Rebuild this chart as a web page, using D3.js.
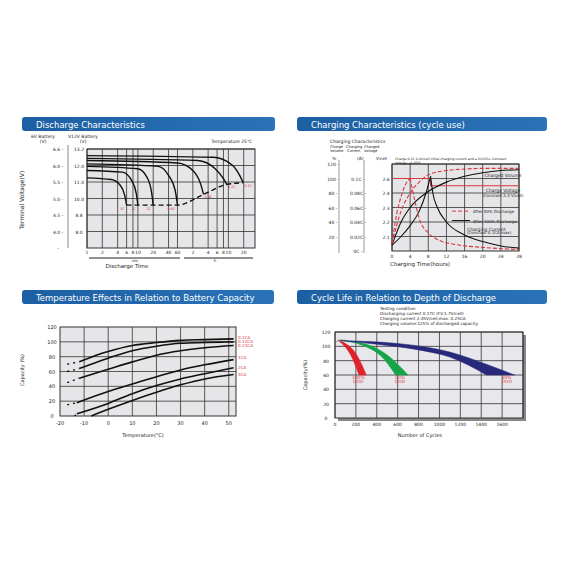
<!DOCTYPE html>
<html><head><meta charset="utf-8">
<script src="https://cdn.jsdelivr.net/npm/d3@7"></script>
<style>body{margin:0;background:#fff}text{font-family:"DejaVu Sans",sans-serif}</style>
</head><body><svg id="c" width="565" height="565"></svg>
<script>
// ---- discharge data (minutes, volts)
const dischargeLabels = ['3C', '2C', '1C', '0.6C', '0.4C', '0.2C', '0.1C'];
const dischargeCurves = [
  [[1, 11.45], [3, 11.35], [4.5, 11.0], [5.5, 10.4], [6, 9.8]],
  [[1, 11.9], [5, 11.8], [7.5, 11.3], [9.3, 10.5], [10, 9.8]],
  [[1, 12.15], [10, 12.0], [15, 11.5], [18.5, 10.6], [20, 9.8]],
  [[1, 12.3], [25, 12.15], [40, 11.6], [54, 10.7], [60, 9.8]],
  [[1, 12.5], [60, 12.35], [120, 11.9], [170, 11.1], [195, 10.45]],
  [[1, 12.63], [150, 12.5], [330, 12.0], [480, 11.4], [556, 11.05]],
  [[1, 12.8], [300, 12.7], [700, 12.25], [1000, 11.6], [1170, 11.15]]
];
const cutoffLine = [[6, 9.8], [60, 9.8], [195, 10.45], [556, 11.05], [1170, 11.15]];
const volt12Ticks = ['13.2', '12.0', '11.0', '10.0', '8.8', '8.0'];
const volt6Ticks = ['6.6', '6.0', '5.5', '5.0', '4.5', '4.0', ''];
const timeTicks = [1, 2, 4, 6, 8, 10, 20, 40, 60, 120, 240, 360, 480, 600, 1200];
const timeTickLabels = ['1', '2', '4', '6', '8', '10', '20', '40', '60', '2', '4', '6', '8', '10', '20'];

// ---- charging data (hours, % of scale)
const chargedVolume = [[0, 8], [2, 40], [4, 60], [8, 82], [12, 95], [16, 103], [20, 108], [24, 111], [28, 112]];
const chargedVolume50 = [[0, 10], [2, 55], [4, 80], [6, 95], [8, 105], [12, 111], [16, 113], [20, 114], [28, 114]];
const voltage100 = [[0, 8], [2, 20], [4, 35], [6, 55], [7.5, 80], [8.5, 103]];
const current100 = [[8.5, 103], [9, 80], [10, 60], [12, 40], [16, 22], [20, 13], [24, 7], [28, 4]];
const voltage50 = [[0, 10], [1, 50], [2, 75], [3, 92], [4, 100]];
const current50 = [[4, 100], [5, 70], [6, 45], [8, 25], [10, 16], [14, 9], [20, 5], [28, 2]];
const chargeVoltHi = [[0, 100], [8.5, 100], [8.5, 90], [28, 90]];
const pctTicks = [120, 100, 80, 60, 40, 20];
const ampTicks = ['', '0.1C', '0.08C', '0.06C', '0.04C', '0.02C', '0C'];
const vcellTicks = ['', '2.6', '2.4', '2.3', '2.2', '2.1', ''];
const hourTicks = [0, 4, 8, 12, 16, 20, 24, 28];

// ---- temperature data (degC, %)
const tempLabels = ['0.1CA', '0.12CA', '0.21CA', '1CA', '2CA', '3CA'];
const tempCurves = [
  [[-12, 73], [-5, 82], [0, 87], [10, 95], [20, 99], [30, 102], [40, 103], [52, 104]],
  [[-12, 64], [0, 78], [10, 88], [20, 94], [30, 98], [40, 99], [52, 100]],
  [[-12, 51], [0, 63], [10, 73], [20, 82], [30, 88], [40, 92], [52, 95]],
  [[-13, 18], [0, 33], [10, 43], [20, 53], [30, 62], [40, 69], [52, 76]],
  [[-13, 3], [0, 17], [10, 30], [20, 41], [30, 50], [40, 57], [52, 65]],
  [[-7, 0], [0, 9], [10, 21], [20, 32], [30, 42], [40, 50], [52, 56]]
];
const tempDashStart = [[-17, 70], [-17, 60], [-17, 45], [-17, 15], [-14, 0]];
const tempLabelY = [106, 101, 96, 79, 66, 57];

// ---- cycle life data (cycles, %)
const dodLabels = ['100%', '50%', '30%'];
const dodColors = ['#e0222a', '#16a34a', '#27297a'];
const dodUpper = [
  [[30, 108], [100, 104], [200, 90], [300, 60]],
  [[50, 108], [300, 103], [500, 88], [700, 60]],
  [[50, 108], [600, 104], [1100, 92], [1450, 75], [1720, 60]]
];
const dodLower = [
  [[30, 108], [80, 102], [150, 88], [230, 60]],
  [[50, 108], [250, 102], [450, 85], [580, 60]],
  [[50, 108], [400, 103], [800, 95], [1100, 85], [1450, 60]]
];
const cycleTicks = [0, 200, 400, 600, 800, 1000, 1200, 1400, 1600];
const capTicks = [0, 20, 40, 60, 80, 100, 120];

const svg = d3.select('#c');
const red = '#d9363e';
const grad = svg.append('defs').append('linearGradient').attr('id', 'hb');
grad.append('stop').attr('offset', '0%').attr('stop-color', '#1d5fa3');
grad.append('stop').attr('offset', '100%').attr('stop-color', '#2a73b8');

function header(x, y, w, title) {
  svg.append('rect').attr('x', x).attr('y', y).attr('width', w).attr('height', 14)
    .attr('rx', 3).attr('fill', 'url(#hb)');
  svg.append('text').attr('x', x + 14).attr('y', y + 10.5).attr('fill', '#fff')
    .attr('font-size', 8.5).text(title);
}
function txt(x, y, s, size, opts = {}) {
  const t = svg.append('text').attr('x', x).attr('y', y).attr('font-size', size)
    .attr('fill', opts.fill || '#222').attr('text-anchor', opts.anchor || 'start').text(s);
  if (opts.rotate) t.attr('transform', `rotate(-90,${x},${y})`);
  return t;
}
function grid(g, xs, ys, x, y) {
  g.selectAll(null).data(xs).join('line').attr('x1', (d) => x(d)).attr('x2', (d) => x(d))
    .attr('y1', y.range()[0]).attr('y2', y.range()[1]).attr('stroke', '#333').attr('stroke-width', 0.8);
  g.selectAll(null).data(ys).join('line').attr('y1', (d) => y(d)).attr('y2', (d) => y(d))
    .attr('x1', x.range()[0]).attr('x2', x.range()[1]).attr('stroke', '#333').attr('stroke-width', 0.8);
}

// ========== Discharge ==========
header(22, 117, 253, 'Discharge Characteristics');
{
  const x = d3.scaleLog().domain([1, 2000]).range([87, 255]);
  const y = d3.scaleLinear().domain([7.2, 13.2]).range([248, 149]);
  const g = svg.append('g');
  g.append('rect').attr('x', 87).attr('y', 149).attr('width', 168).attr('height', 99).attr('fill', '#e6e6e9');
  grid(g, timeTicks, d3.range(8.2, 13.3, 1), x, y);
  g.append('rect').attr('x', 87).attr('y', 149).attr('width', 168).attr('height', 99)
    .attr('fill', 'none').attr('stroke', '#333');
  const line = d3.line().x((d) => x(d[0])).y((d) => y(d[1])).curve(d3.curveMonotoneX);
  g.selectAll(null).data(dischargeCurves).join('path').attr('d', line)
    .attr('fill', 'none').attr('stroke', '#111').attr('stroke-width', 1.4);
  g.append('path').attr('d', line(cutoffLine)).attr('fill', 'none').attr('stroke', '#111')
    .attr('stroke-width', 1.4).attr('stroke-dasharray', '5,3');
  dischargeCurves.forEach((c, i) => {
    const e = c[c.length - 1];
    txt(x(e[0]) - (i < 4 ? 2 : -1), y(e[1]) + (i < 4 ? 5 : 4), dischargeLabels[i], 3.5,
      { fill: red, anchor: i < 4 ? 'end' : 'start' });
  });
  volt12Ticks.forEach((t, i) => txt(79, y(13.2 - i) + 2, t, 4.5, { anchor: 'middle' }));
  volt6Ticks.forEach((t, i) => txt(58, y(13.2 - i) + 2, t + ' -', 4.5, { anchor: 'middle' }));
  svg.append('line').attr('x1', 68).attr('x2', 68).attr('y1', 145).attr('y2', 248).attr('stroke', '#888');
  timeTicks.forEach((t, i) => txt(x(t), 254, timeTickLabels[i], 4.5, { anchor: 'middle' }));
  svg.append('line').attr('x1', 89).attr('x2', 180).attr('y1', 258).attr('y2', 258).attr('stroke', '#222');
  svg.append('line').attr('x1', 184).attr('x2', 253).attr('y1', 258).attr('y2', 258).attr('stroke', '#222');
  txt(135, 262, 'min', 3.5, { anchor: 'middle' });
  txt(215, 262, 'h', 4, { anchor: 'middle' });
  txt(43, 138, '6V Battery', 4.5, { anchor: 'middle' });
  txt(43, 143, '(V)', 4.5, { anchor: 'middle' });
  txt(83, 138, 'V12V Battery', 4.5, { anchor: 'middle' });
  txt(83, 143, '(V)', 4.5, { anchor: 'middle' });
  txt(252, 143, 'Temperature 25℃', 4.5, { anchor: 'end' });
  txt(24, 200, 'Terminal Voltage(V)', 6, { anchor: 'middle', rotate: true });
  txt(127, 268, 'Discharge Time', 5.5, { anchor: 'middle' });
}

// ========== Charging ==========
header(297, 117, 250, 'Charging Characteristics        (cycle use)');
{
  const x = d3.scaleLinear().domain([0, 28]).range([392, 519]);
  const y = d3.scaleLinear().domain([0, 120]).range([251, 164]);
  const g = svg.append('g');
  g.append('rect').attr('x', 392).attr('y', 164).attr('width', 127).attr('height', 87).attr('fill', '#e6e6e9');
  grid(g, hourTicks, [20, 40, 60, 80, 100, 120], x, y);
  g.append('rect').attr('x', 392).attr('y', 164).attr('width', 127).attr('height', 87)
    .attr('fill', 'none').attr('stroke', '#333');
  const line = d3.line().x((d) => x(d[0])).y((d) => y(d[1])).curve(d3.curveMonotoneX);
  const draw = (data, col, dash) => g.append('path').attr('d', line(data)).attr('fill', 'none')
    .attr('stroke', col).attr('stroke-width', 1.1).attr('stroke-dasharray', dash || null);
  draw(chargeVoltHi, red);
  draw(chargedVolume, '#111');
  draw(chargedVolume50, red, '4,2');
  draw(voltage100, '#111');
  draw(current100, '#111');
  draw(voltage50, red, '4,2');
  draw(current50, red, '4,2');
  pctTicks.forEach((t) => txt(333, y(t) + 2, t + ' -', 4.5, { anchor: 'middle' }));
  ampTicks.forEach((t, i) => txt(358, y(120 - i * 20) + 2, t ? t + ' -' : '', 4.5, { anchor: 'middle' }));
  vcellTicks.forEach((t, i) => txt(386, y(120 - i * 20) + 2, t, 4.5, { anchor: 'middle' }));
  [333, 358].forEach((xx) => svg.append('line').attr('x1', xx + 6).attr('x2', xx + 6)
    .attr('y1', 160).attr('y2', 253).attr('stroke', '#555').attr('stroke-width', 0.6));
  hourTicks.forEach((t) => txt(x(t), 258, t, 4.5, { anchor: 'middle' }));
  txt(420, 266, 'Charging Time(hours)', 5.5, { anchor: 'middle' });
  txt(330, 143, 'Charging Characteristics', 4.5);
  ['Charge', 'Charging', 'Charged'].forEach((s, i) => txt([330, 346, 364][i], 148, s, 3.6));
  ['Volume', 'Current', 'Voltage'].forEach((s, i) => txt([330, 347, 364][i], 152, s, 3.6));
  txt(332, 160, '%', 4.5); txt(357, 160, '(A)', 4.5); txt(376, 160, 'V/cell', 4);
  txt(395, 160, 'Charge 0.1C 2.4V/cell initial charging current and a 2V/CELL Constant', 3.2);
  txt(395, 164, 'Voltage, at 25ºC', 3.2);
  txt(503, 177, 'Charged Volume', 4.5, { anchor: 'middle' });
  txt(503, 192, 'Charge Voltage', 4.5, { anchor: 'middle' });
  txt(503, 197, '(Constant 2.4 V/cell)', 4, { anchor: 'middle' });
  svg.append('line').attr('x1', 452).attr('x2', 470).attr('y1', y(55)).attr('y2', y(55))
    .attr('stroke', red).attr('stroke-dasharray', '4,2');
  txt(473, y(55) + 2, 'After 50% Discharge', 4);
  svg.append('line').attr('x1', 452).attr('x2', 470).attr('y1', y(42)).attr('y2', y(42)).attr('stroke', '#111');
  txt(473, y(42) + 2, 'After 100% Discharge', 4);
  txt(467, y(28), 'Charging Current', 4.5);
  txt(467, y(23), '(Constant 0.1CA max)', 4);
}

// ========== Temperature ==========
header(22, 290, 252, 'Temperature Effects in Relation to Battery Capacity');
{
  const x = d3.scaleLinear().domain([-20, 53]).range([60, 236]);
  const y = d3.scaleLinear().domain([0, 120]).range([416, 327]);
  const g = svg.append('g');
  g.append('rect').attr('x', 60).attr('y', 327).attr('width', 176).attr('height', 89).attr('fill', '#e6e6e9');
  grid(g, [-10, 0, 10, 20, 30, 40, 50], [20, 40, 60, 80, 100], x, y);
  g.append('rect').attr('x', 60).attr('y', 327).attr('width', 176).attr('height', 89)
    .attr('fill', 'none').attr('stroke', '#333');
  const line = d3.line().x((d) => x(d[0])).y((d) => y(d[1])).curve(d3.curveMonotoneX);
  g.selectAll(null).data(tempCurves).join('path').attr('d', line)
    .attr('fill', 'none').attr('stroke', '#111').attr('stroke-width', 1.6);
  tempDashStart.forEach((s, i) => g.append('path').attr('d', line([s, tempCurves[i][0]]))
    .attr('stroke', '#111').attr('stroke-width', 1.4).attr('stroke-dasharray', '2,4'));
  tempLabels.forEach((l, i) => txt(238, y(tempLabelY[i]) + 2, l, 4.2, { fill: red }));
  capTicks.forEach((t) => txt(52, y(t) + 2, t, 5, { anchor: 'middle' }));
  [-20, -10, 0, 10, 20, 30, 40, 50].forEach((t) => txt(x(t), 425, t, 5, { anchor: 'middle' }));
  txt(24, 370, 'Capacity (%)', 5, { anchor: 'middle', rotate: true });
  txt(143, 437, 'Temperature(°C)', 5, { anchor: 'middle' });
}

// ========== Cycle life ==========
header(297, 290, 250, 'Cycle  Life in Relation to Depth  of Discharge');
{
  const x = d3.scaleLinear().domain([0, 1800]).range([335, 523]);
  const y = d3.scaleLinear().domain([0, 120]).range([418, 332]);
  const g = svg.append('g');
  g.append('rect').attr('x', 338).attr('y', 335).attr('width', 188).attr('height', 86).attr('fill', '#888');
  g.append('rect').attr('x', 335).attr('y', 332).attr('width', 188).attr('height', 86).attr('fill', '#e8e8ec');
  grid(g, cycleTicks.concat([1800]), [20, 40, 60, 80, 100, 120], x, y);
  g.append('rect').attr('x', 335).attr('y', 332).attr('width', 188).attr('height', 86)
    .attr('fill', 'none').attr('stroke', '#333');
  const line = d3.line().x((d) => x(d[0])).y((d) => y(d[1])).curve(d3.curveMonotoneX);
  dodUpper.forEach((u, i) => {
    const band = line(u) + 'L' + line(dodLower[i].slice().reverse()).slice(1) + 'Z';
    g.append('path').attr('d', band).attr('fill', dodColors[i]).attr('stroke', dodColors[i]).attr('stroke-width', 0.5);
    const e = u[u.length - 1];
    txt(x(e[0]) - 8, y(54), dodLabels[i], 4.5, { fill: red, anchor: 'middle' });
    txt(x(e[0]) - 8, y(49), 'DOD', 4.5, { fill: red, anchor: 'middle' });
  });
  g.append('path').attr('d', line([[0, 104], [40, 109], [120, 108]])).attr('fill', 'none').attr('stroke', '#555').attr('stroke-width', 0.6);
  capTicks.forEach((t) => txt(326, y(t) + 2, t, 4.5, { anchor: 'middle' }));
  cycleTicks.forEach((t) => txt(x(t), 426, t, 4.5, { anchor: 'middle' }));
  txt(307, 375, 'Capacity(%)', 5, { anchor: 'middle', rotate: true });
  txt(420, 437, 'Number of Cycles', 5, { anchor: 'middle' });
  ['Testing condition', 'Discharging current 0.17C (FV.1.7V/cell)',
    'Charging current 2.45V/cell,max. 0.25CA',
    'Charging volume:125% of discharged capacity.'].forEach((s, i) => txt(380, 310 + i * 5, s, 4.2));
}
</script></body></html>
